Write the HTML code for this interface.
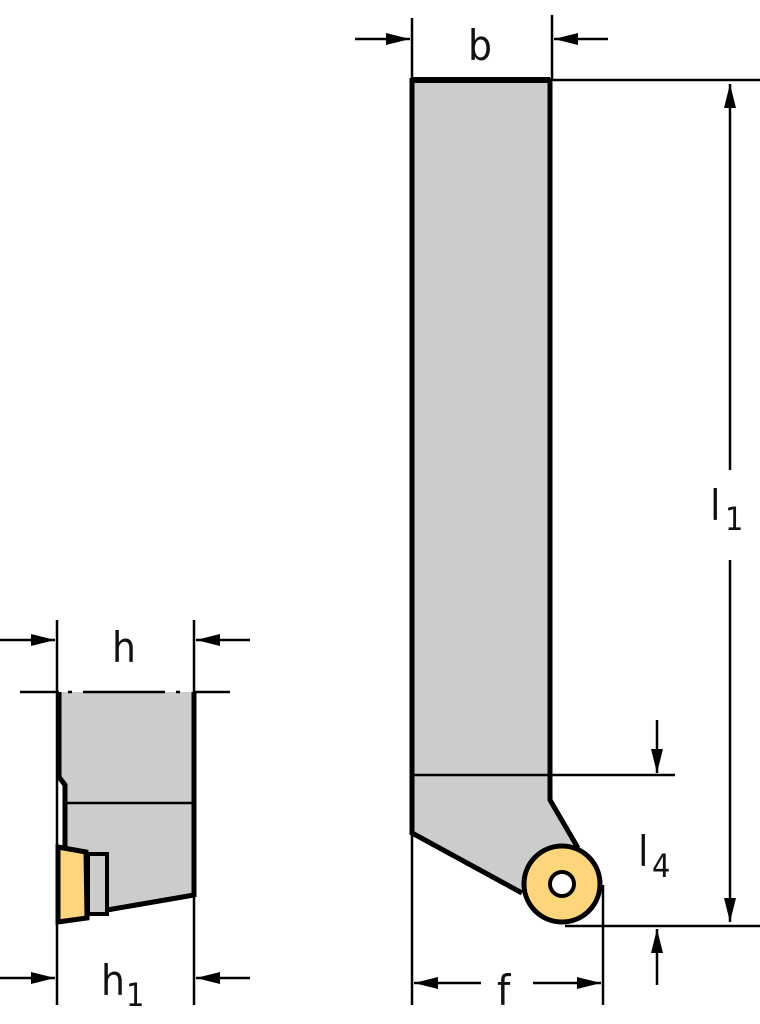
<!DOCTYPE html>
<html><head><meta charset="utf-8"><style>
html,body{margin:0;padding:0;background:#fff;width:760px;height:1024px;overflow:hidden}
text{font-family:"DejaVu Sans Condensed","DejaVu Sans","Liberation Sans",sans-serif;fill:#111}
</style></head><body>
<svg width="760" height="1024" viewBox="0 0 760 1024" xmlns="http://www.w3.org/2000/svg">
<defs>
<marker id="av" markerWidth="24" markerHeight="12" refX="24" refY="6" orient="auto" markerUnits="userSpaceOnUse">
<path d="M0,0 L24,6 L0,12 Z" fill="#000"/></marker>
</defs>
<polygon points="412,80 550,80 550,800 578,848 540,890 525,895 412,833" fill="#cccccc"/>
<line x1="412" y1="775" x2="675" y2="775" stroke="#000" stroke-width="2.5"/>
<polyline points="412,80 550,80" fill="none" stroke="#000" stroke-width="6"/>
<polyline points="412,78 412,833 522,893" fill="none" stroke="#000" stroke-width="5"/>
<polyline points="550,78 550,800 578,848" fill="none" stroke="#000" stroke-width="5"/>
<circle cx="562" cy="884" r="38" fill="#fdd57a" stroke="#000" stroke-width="5"/>
<circle cx="562" cy="884" r="12" fill="#fff" stroke="#000" stroke-width="4"/>
<g stroke="#000" stroke-width="2.5" fill="none">
<line x1="412" y1="18" x2="412" y2="80"/>
<line x1="552" y1="15" x2="552" y2="80"/>
<line x1="355" y1="39" x2="410" y2="39" marker-end="url(#av)"/>
<line x1="608" y1="39" x2="554" y2="39" marker-end="url(#av)"/>
<line x1="552" y1="80" x2="760" y2="80"/>
<line x1="565" y1="926" x2="760" y2="926"/>
<line x1="730" y1="470" x2="730" y2="84" marker-end="url(#av)"/>
<line x1="730" y1="560" x2="730" y2="922" marker-end="url(#av)"/>
<line x1="657" y1="720" x2="657" y2="773" marker-end="url(#av)"/>
<line x1="657" y1="985" x2="657" y2="929" marker-end="url(#av)"/>
<line x1="412" y1="833" x2="412" y2="1005"/>
<line x1="603" y1="885" x2="603" y2="1005"/>
<line x1="481" y1="983" x2="414" y2="983" marker-end="url(#av)"/>
<line x1="533" y1="983" x2="601" y2="983" marker-end="url(#av)"/>
</g>
<text x="468" y="60" font-size="42">b</text>
<text x="710" y="520" font-size="42">l</text><text x="725" y="530" font-size="32">1</text>
<text x="638" y="866" font-size="42">l</text><text x="652" y="877" font-size="32">4</text>
<text x="497" y="1005" font-size="42">f</text>
<polygon points="59,692 192,692 192,897 107,910 107,853 88,853 63,848 65,785 59,777" fill="#cccccc"/>
<line x1="65" y1="803" x2="192" y2="803" stroke="#000" stroke-width="2.5"/>
<polyline points="59,692 59,777 65,785 65,848" fill="none" stroke="#000" stroke-width="5"/>
<line x1="194" y1="692" x2="194" y2="897" stroke="#000" stroke-width="5"/>
<line x1="107" y1="910" x2="194" y2="895" stroke="#000" stroke-width="5"/>
<rect x="88" y="854" width="19" height="60" fill="#cccccc" stroke="#000" stroke-width="4"/>
<polygon points="58,847 86,852 87,918 58,922" fill="#fdd57a" stroke="#000" stroke-width="5"/>
<g stroke="#000" stroke-width="2.5" fill="none">
<line x1="57" y1="620" x2="57" y2="1005"/>
<line x1="194" y1="620" x2="194" y2="1005"/>
<line x1="0" y1="640" x2="55" y2="640" marker-end="url(#av)"/>
<line x1="250" y1="640" x2="196" y2="640" marker-end="url(#av)"/>
<line x1="20" y1="692" x2="59" y2="692"/>
<line x1="194" y1="692" x2="230" y2="692"/>
<line x1="83" y1="692" x2="165" y2="692"/>
<line x1="68" y1="692" x2="72" y2="692"/>
<line x1="176" y1="692" x2="180" y2="692"/>
<line x1="0" y1="978" x2="55" y2="978" marker-end="url(#av)"/>
<line x1="250" y1="978" x2="196" y2="978" marker-end="url(#av)"/>
</g>
<text x="112" y="662" font-size="42">h</text>
<text x="101" y="995" font-size="42">h</text><text x="126" y="1006" font-size="32">1</text>
</svg>
</body></html>
